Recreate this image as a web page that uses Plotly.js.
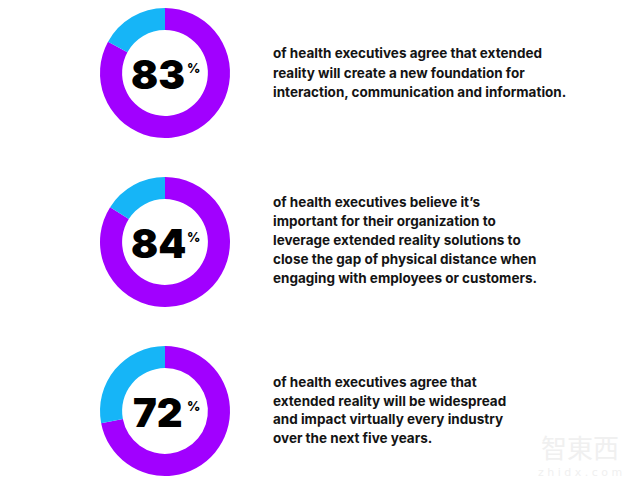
<!DOCTYPE html>
<html>
<head>
<meta charset="utf-8">
<script src="https://cdn.plot.ly/plotly-3.0.1.min.js"></script>
<style>
  html, body { margin: 0; padding: 0; background: #fff; }
  #plot { width: 640px; height: 488px; }
</style>
</head>
<body>
<div id="plot"></div>
<script>
const percents = [83, 84, 72];
const captions = [
  [
    "of health executives agree that extended",
    "reality will create a new foundation for",
    "interaction, communication and information."
  ],
  [
    "of health executives believe it\u2019s",
    "important for their organization to",
    "leverage extended reality solutions to",
    "close the gap of physical distance when",
    "engaging with employees or customers."
  ],
  [
    "of health executives agree that",
    "extended reality will be widespread",
    "and impact virtually every industry",
    "over the next five years."
  ]
];

const W = 640, H = 488;
const purple = "#A100FF";
const blue = "#16B5F7";

// donut centres in pixels (top-left origin), radius
const centres = [[165, 73], [165, 242], [165, 411]];
const R = 65;
// first caption line y for each block, line step
const textTop = [53, 202, 382];
const lineStep = [19.5, 19, 18.5];

const px = (x) => x / W;
const py = (y) => 1 - y / H;

const traces = percents.map((p, i) => {
  const [cx, cy] = centres[i];
  return {
    type: "pie",
    values: [p, 100 - p],
    marker: { colors: [purple, blue], line: { width: 0 } },
    hole: 0.66,
    sort: false,
    direction: "clockwise",
    rotation: 0,
    textinfo: "none",
    hoverinfo: "none",
    showlegend: false,
    domain: { x: [px(cx - R), px(cx + R)], y: [py(cy + R), py(cy - R)] },
  };
});

const annotations = [];
percents.forEach((p, i) => {
  const [cx, cy] = centres[i];
  annotations.push({
    xref: "paper", yref: "paper",
    x: px(cx - 7), y: py(cy + 1),
    xanchor: "center", yanchor: "middle",
    text: String(p),
    showarrow: false,
    font: { family: "Inter, 'Liberation Sans', sans-serif", size: 40, weight: 900, color: "#000" },
  });
  annotations.push({
    xref: "paper", yref: "paper",
    x: px(cx + 20), y: py(cy - 5),
    xanchor: "left", yanchor: "middle",
    text: "%",
    showarrow: false,
    font: { family: "Inter, 'Liberation Sans', sans-serif", size: 13, weight: 800, color: "#000" },
  });
  captions[i].forEach((line, j) => {
    annotations.push({
      xref: "paper", yref: "paper",
      x: px(271), y: py(textTop[i] + j * lineStep[i]),
      xanchor: "left", yanchor: "middle",
      text: line,
      showarrow: false,
      font: { family: "Inter, 'Liberation Sans', sans-serif", size: 13.5, weight: 700, color: "#141414" },
    });
  });
});

// faint watermark
annotations.push({
  xref: "paper", yref: "paper", x: px(580), y: py(446),
  xanchor: "center", yanchor: "middle", text: "智東西", showarrow: false,
  font: { family: "'Noto Sans CJK SC', sans-serif", size: 26, color: "#f0f0f0" },
});
annotations.push({
  xref: "paper", yref: "paper", x: px(580), y: py(472),
  xanchor: "center", yanchor: "middle", text: "z h i d x . c o m", showarrow: false,
  font: { family: "'DejaVu Sans', sans-serif", size: 11, color: "#f0f0f0" },
});

const layout = {
  width: W, height: H,
  margin: { l: 0, r: 0, t: 0, b: 0 },
  paper_bgcolor: "#fff",
  annotations: annotations,
};

Plotly.newPlot("plot", traces, layout, { displayModeBar: false, staticPlot: true });
</script>
</body>
</html>
